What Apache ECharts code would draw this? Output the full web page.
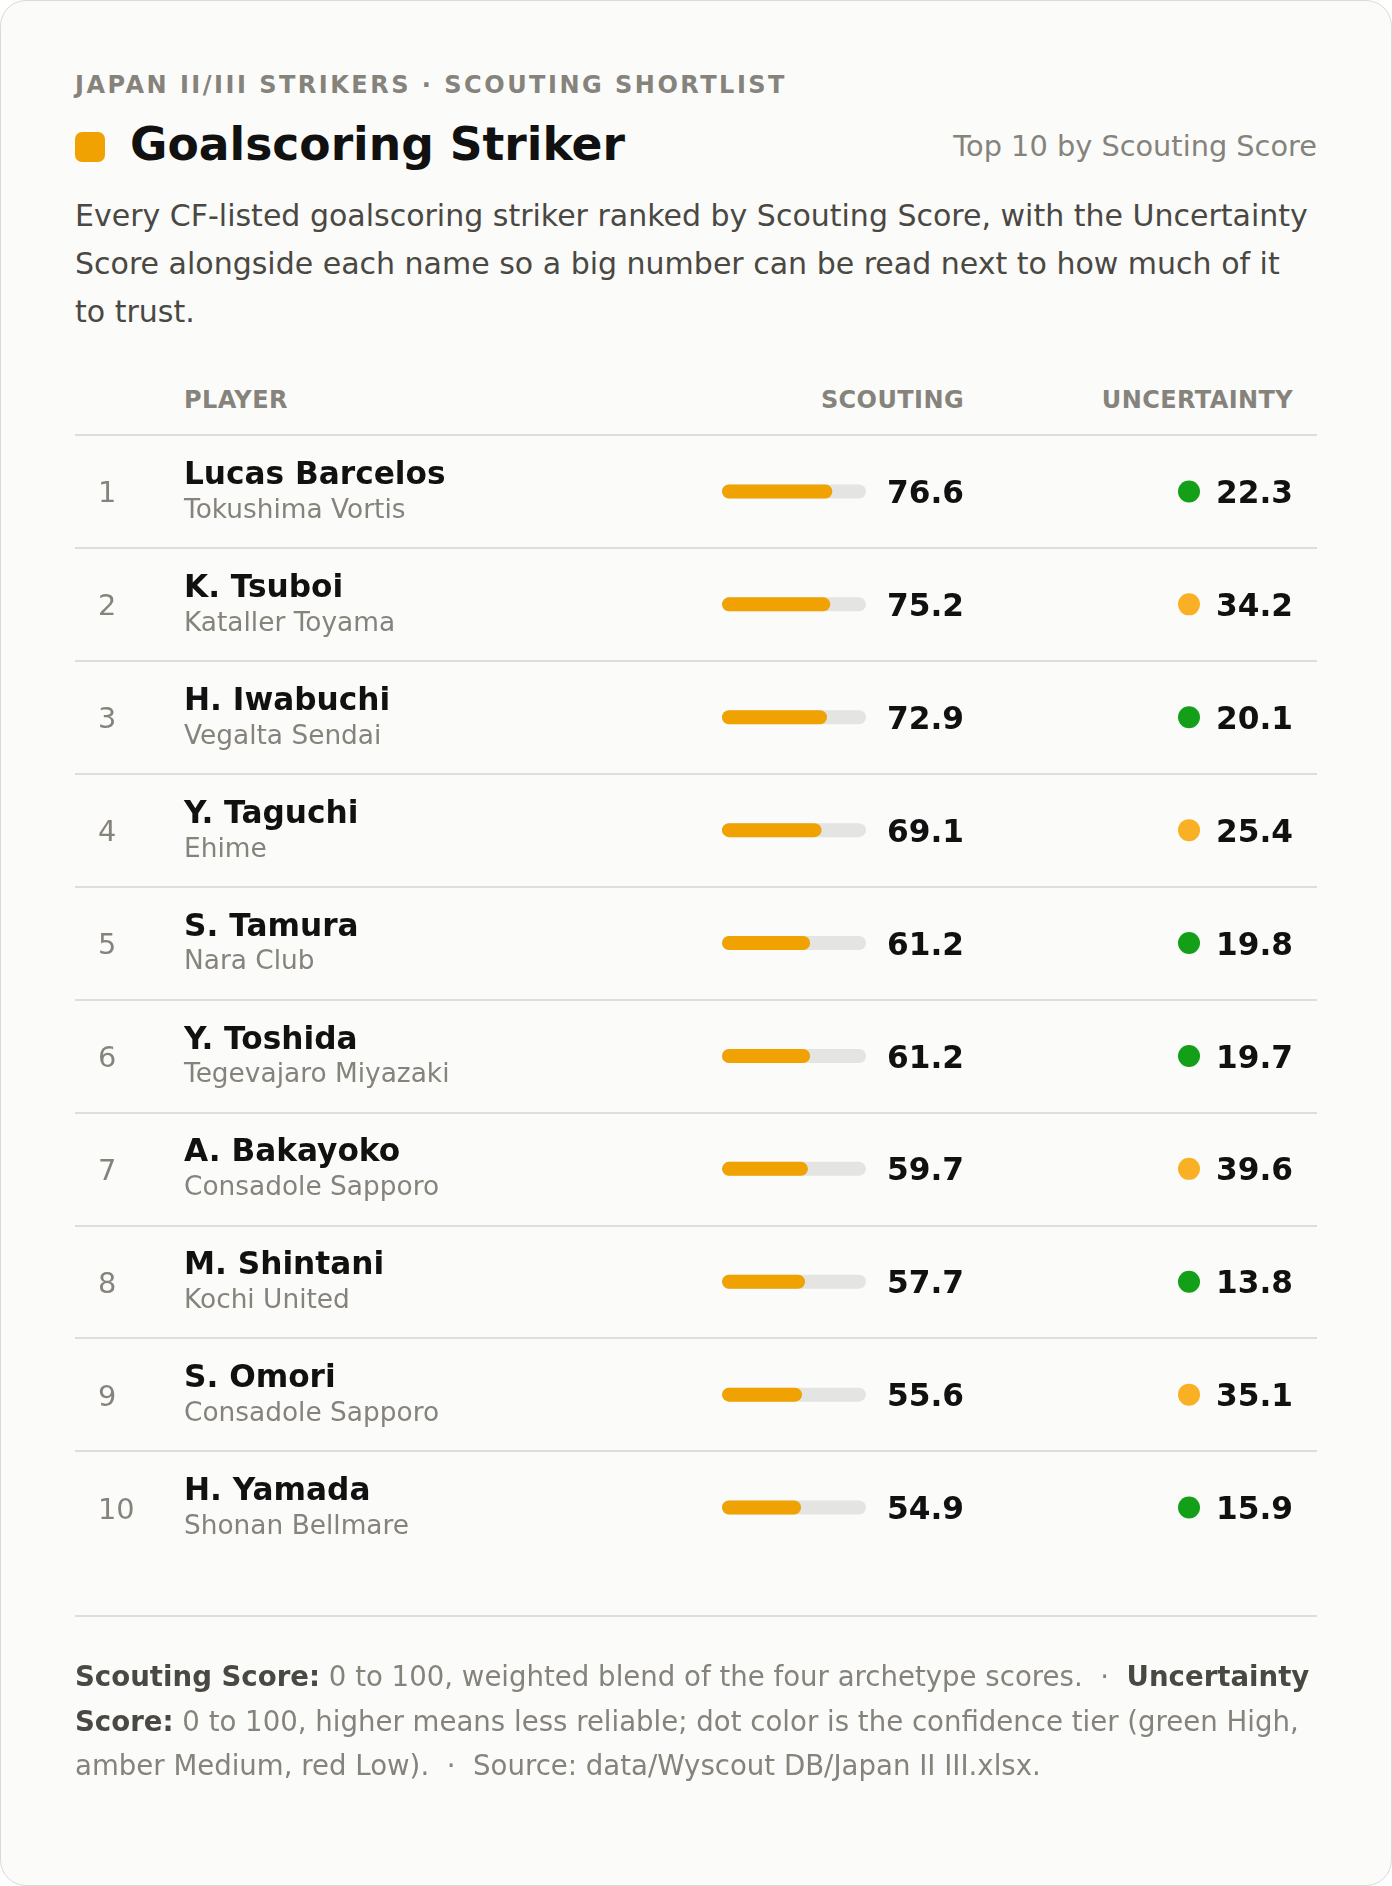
<!DOCTYPE html>
<html>
<head>
<meta charset="utf-8">
<script src="https://cdn.jsdelivr.net/npm/echarts@6.0.0/dist/echarts.min.js"></script>
<style>
  html, body { margin: 0; padding: 0; background: #ffffff; }
  #card {
    position: absolute; left: 0; top: 0; width: 1392px; height: 1886px;
    box-sizing: border-box; border: 1.5px solid #dadad7; border-radius: 26px;
    background: #fbfbf9;
  }
  .t { position: absolute; white-space: nowrap; font-family: 'DejaVu Sans', sans-serif; }
  .eyebrow { left: 75px; top: 70px; font-size: 24px; line-height: 30px; font-weight: bold; letter-spacing: 2.5px; color: #86837c; }
  .swatch { position: absolute; left: 75px; top: 132px; width: 30px; height: 30px; border-radius: 7px; background: #f0a202; }
  .title { left: 130px; top: 117px; font-size: 45.6px; line-height: 56px; font-weight: bold; color: #111111; }
  .sub { right: 75px; top: 129px; font-size: 28.8px; line-height: 34px; color: #86837c; }
  .desc { left: 75px; top: 192px; font-size: 30px; line-height: 48px; color: #4a4843; }
  .th { top: 385px; font-size: 24px; line-height: 30px; font-weight: bold; color: #86837c; letter-spacing: 0.4px; }
  .rule { position: absolute; left: 75px; width: 1242px; top: 1615px; height: 2px; background: #dedede; }
  .foot { left: 75px; top: 1655px; font-size: 27.6px; line-height: 44.5px; color: #86837c; }
  .foot b { color: #4a4843; }
  #chart { position: absolute; left: 0; top: 0; width: 1392px; height: 1886px; }
</style>
</head>
<body>
<div id="card"></div>
<div class="t eyebrow">JAPAN II/III STRIKERS · SCOUTING SHORTLIST</div>
<div class="swatch"></div>
<div class="t title">Goalscoring Striker</div>
<div class="t sub">Top 10 by Scouting Score</div>
<div class="t desc">Every CF-listed goalscoring striker ranked by Scouting Score, with the Uncertainty<br>Score alongside each name so a big number can be read next to how much of it<br>to trust.</div>
<div class="t th" style="left:184px">PLAYER</div>
<div class="t th" style="right:428px">SCOUTING</div>
<div class="t th" style="right:99px">UNCERTAINTY</div>
<div id="chart"></div>
<div class="rule"></div>
<div class="t foot"><b>Scouting Score:</b> 0 to 100, weighted blend of the four archetype scores. &nbsp;·&nbsp; <b>Uncertainty</b><br><b>Score:</b> 0 to 100, higher means less reliable; dot color is the confidence tier (green High,<br>amber Medium, red Low). &nbsp;·&nbsp; Source: data/Wyscout DB/Japan II III.xlsx.</div>

<script>
// Shortlist data, in rank order
const players = ['Lucas Barcelos', 'K. Tsuboi', 'H. Iwabuchi', 'Y. Taguchi', 'S. Tamura',
                 'Y. Toshida', 'A. Bakayoko', 'M. Shintani', 'S. Omori', 'H. Yamada'];
const teams = ['Tokushima Vortis', 'Kataller Toyama', 'Vegalta Sendai', 'Ehime', 'Nara Club',
               'Tegevajaro Miyazaki', 'Consadole Sapporo', 'Kochi United', 'Consadole Sapporo', 'Shonan Bellmare'];
const scouting = [76.6, 75.2, 72.9, 69.1, 61.2, 61.2, 59.7, 57.7, 55.6, 54.9];
const uncertainty = [22.3, 34.2, 20.1, 25.4, 19.8, 19.7, 39.6, 13.8, 35.1, 15.9];
const tiers = ['High', 'Medium', 'High', 'Medium', 'High', 'High', 'Medium', 'High', 'Medium', 'High'];

const tierColors = { High: '#13a018', Medium: '#f9b024', Low: '#d64541' };

// Row band geometry
const rowsTop = 435;
const rowsHeight = 1129;

const chart = echarts.init(document.getElementById('chart'), null, { renderer: 'canvas' });

function rowAxis(gridIndex, extra) {
    return Object.assign({
        type: 'category',
        gridIndex: gridIndex,
        data: players,
        inverse: true,
        axisLine: { show: false },
        axisTick: { show: false },
        splitLine: { show: false },
        axisLabel: { show: false }
    }, extra || {});
}

const option = {
    animation: false,
    textStyle: { fontFamily: 'DejaVu Sans' },
    grid: [
        // bars
        { left: 722, width: 144, top: rowsTop, height: rowsHeight },
        // uncertainty dots
        { left: 1178, width: 22, top: rowsTop, height: rowsHeight },
        // full-width row separators
        { left: 75, width: 1242, top: rowsTop, height: rowsHeight }
    ],
    xAxis: [
        { type: 'value', gridIndex: 0, min: 0, max: 100, show: false },
        { type: 'category', gridIndex: 1, data: ['u'], show: false },
        { type: 'value', gridIndex: 2, min: 0, max: 1, show: false }
    ],
    yAxis: [
        // player + club
        rowAxis(0, {
            position: 'left',
            axisLabel: {
                show: true,
                interval: 0,
                align: 'left',
                margin: 538,
                padding: [4, 0, 0, 0],
                formatter: (v, i) => '{n|' + v + '}\n{t|' + teams[i] + '}',
                rich: {
                    n: { fontSize: 31.2, fontWeight: 'bold', color: '#111111', lineHeight: 35, fontFamily: 'DejaVu Sans' },
                    t: { fontSize: 26.4, color: '#86837c', lineHeight: 35, fontFamily: 'DejaVu Sans' }
                }
            }
        }),
        // rank
        rowAxis(0, {
            position: 'left',
            axisLabel: {
                show: true,
                interval: 0,
                align: 'left',
                margin: 624,
                padding: [7, 0, 0, 0],
                formatter: (v, i) => '{r|' + (i + 1) + '}',
                rich: {
                    r: { fontSize: 28.8, color: '#86837c', fontFamily: 'DejaVu Sans' }
                }
            }
        }),
        // scouting value
        rowAxis(0, {
            position: 'right',
            axisLabel: {
                show: true,
                interval: 0,
                align: 'right',
                margin: 98,
                padding: [7, 0, 0, 0],
                formatter: (v, i) => '{v|' + scouting[i].toFixed(1) + '}',
                rich: {
                    v: { fontSize: 31.2, fontWeight: 'bold', color: '#111111', fontFamily: 'DejaVu Sans' }
                }
            }
        }),
        rowAxis(1),
        {
            type: 'value',
            gridIndex: 2,
            min: 0,
            max: 10,
            interval: 1,
            inverse: true,
            axisLine: { show: false },
            axisTick: { show: false },
            axisLabel: { show: false },
            splitLine: {
                show: true,
                showMaxLine: false,
                lineStyle: { color: '#dedede', width: 2 }
            }
        }
    ],
    series: [
        {
            type: 'bar',
            xAxisIndex: 0,
            yAxisIndex: 0,
            data: scouting,
            barWidth: 14,
            showBackground: true,
            backgroundStyle: { color: '#e4e4e2', borderRadius: 7 },
            itemStyle: { color: '#f0a202', borderRadius: 7 }
        },
        {
            type: 'scatter',
            xAxisIndex: 1,
            yAxisIndex: 3,
            symbol: 'circle',
            symbolSize: 22,
            data: uncertainty.map((u, i) => ({
                value: [0, i, u],
                itemStyle: { color: tierColors[tiers[i]], opacity: 1 }
            })),
            label: {
                show: true,
                position: 'right',
                distance: 16,
                padding: [7, 0, 0, 0],
                formatter: p => '{v|' + p.value[2].toFixed(1) + '}',
                rich: {
                    v: { fontSize: 31.2, fontWeight: 'bold', color: '#111111', fontFamily: 'DejaVu Sans' }
                }
            }
        }
    ]
};

chart.setOption(option);
</script>
</body>
</html>
